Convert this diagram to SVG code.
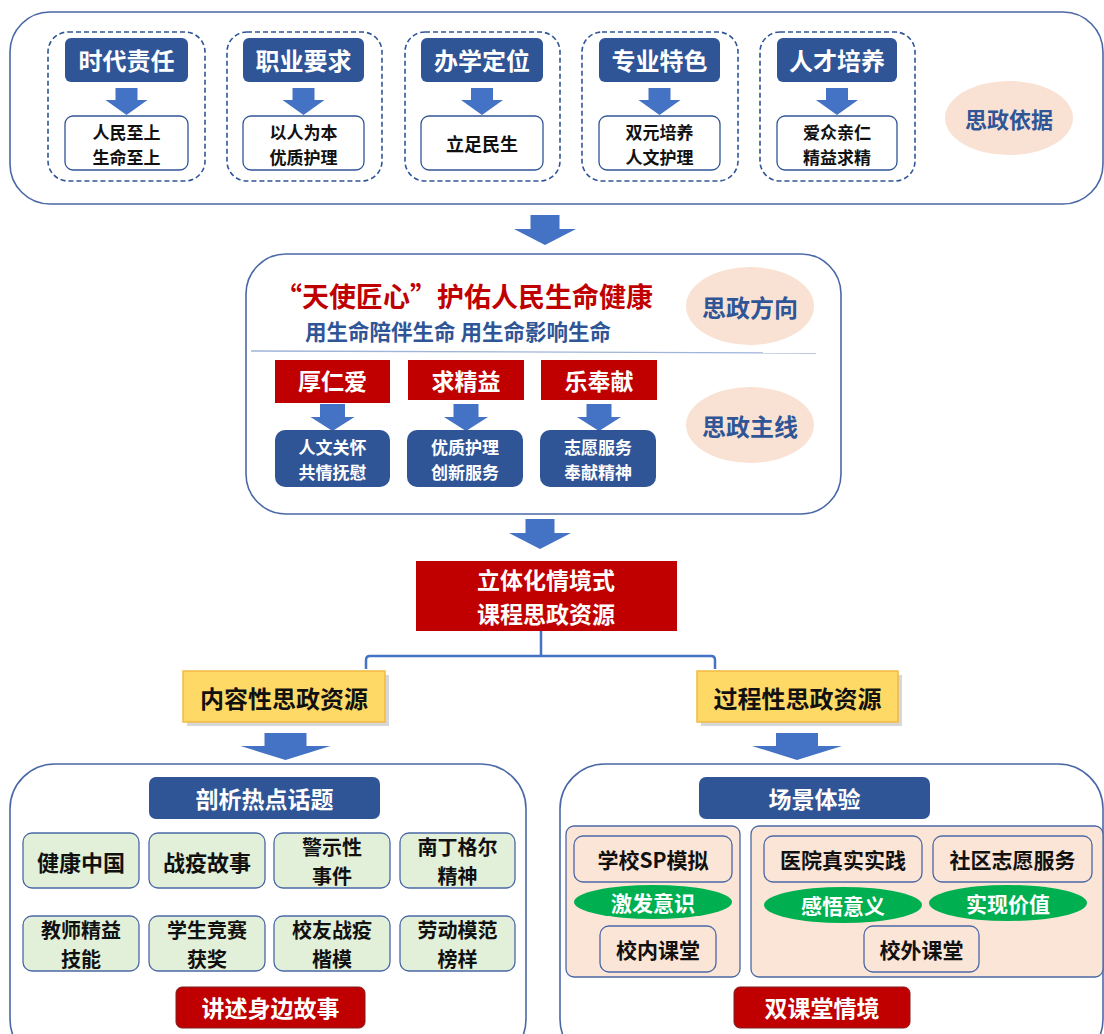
<svg xmlns="http://www.w3.org/2000/svg" width="1104" height="1034" viewBox="0 0 1104 1034">
<style>
text{font-family:"Noto Sans CJK SC","Noto Sans",sans-serif;font-weight:bold;text-anchor:middle;dominant-baseline:central}
.panel{fill:#fff;stroke:#4a68a6;stroke-width:1.6}
.dash{fill:#fff;stroke:#2f5597;stroke-width:1.6;stroke-dasharray:5 3}
.hdr{fill:#2f5597}
.wt{fill:#fff}
.bk{fill:#111}
.bl{fill:#2f5597}
.rd{fill:#c00000}
.wbox{fill:#fff;stroke:#2f5597;stroke-width:1.3}
.red{fill:#c00000}
.redb{fill:#c00000;stroke:#7f1f1f;stroke-width:1}
.blue{fill:#2f5597}
.ell{fill:#f9e2d3}
.arr{fill:#4472c4}
.grn{fill:#e2f0d9;stroke:#4a68a6;stroke-width:1.3}
.pch{fill:#fbe5d6;stroke:#4a68a6;stroke-width:1.3}
.gel{fill:#00b050}
.yel{fill:#ffd966;stroke:#f4b942;stroke-width:1.5}
.conn{fill:none;stroke:#4472c4;stroke-width:2.5}
</style>
<defs>
<path id="arS" d="M-11 0h22v12h10l-21 15l-21-15h10z"/>
<path id="arM" d="M-12.5 0h25v13h9.5l-22 14l-22-14h9.5z"/>
<path id="arB" d="M-14.5 0h29v14h16.5l-31 16l-31-16h16.5z"/>
<path id="arW" d="M-21 0h42v13h24l-45 14l-45-14h24z"/>
</defs>

<!-- Top panel -->
<g id="panel-basis">
<rect class="panel" x="10" y="12" width="1093" height="192" rx="40"/>
</g>
<g id="basis-1">
<rect class="dash" x="48" y="32" width="157" height="149" rx="20"/>
<rect class="hdr" x="65" y="38" width="123" height="44" rx="6"/>
<text class="wt" x="126.5" y="59" font-size="24">时代责任</text>
<use href="#arS" class="arr" x="126.5" y="88"/>
<rect class="wbox" x="65" y="116" width="123" height="54" rx="8"/>
<text class="bk" font-size="17"><tspan x="126.5" y="130.5">人民至上</tspan><tspan x="126.5" y="155.5">生命至上</tspan></text>
</g>
<g id="basis-2">
<rect class="dash" x="227" y="32" width="155" height="149" rx="20"/>
<rect class="hdr" x="243" y="38" width="121" height="44" rx="6"/>
<text class="wt" x="303.5" y="59" font-size="24">职业要求</text>
<use href="#arS" class="arr" x="303.5" y="88"/>
<rect class="wbox" x="243" y="116" width="121" height="54" rx="8"/>
<text class="bk" font-size="17"><tspan x="303.5" y="130.5">以人为本</tspan><tspan x="303.5" y="155.5">优质护理</tspan></text>
</g>
<g id="basis-3">
<rect class="dash" x="405" y="32" width="155" height="149" rx="20"/>
<rect class="hdr" x="421" y="38" width="122" height="44" rx="6"/>
<text class="wt" x="482" y="59" font-size="24">办学定位</text>
<use href="#arS" class="arr" x="482" y="88"/>
<rect class="wbox" x="421" y="116" width="122" height="54" rx="8"/>
<text class="bk" x="482" y="143" font-size="18">立足民生</text>
</g>
<g id="basis-4">
<rect class="dash" x="582" y="32" width="156" height="149" rx="20"/>
<rect class="hdr" x="599" y="38" width="121" height="44" rx="6"/>
<text class="wt" x="659.5" y="59" font-size="24">专业特色</text>
<use href="#arS" class="arr" x="659.5" y="88"/>
<rect class="wbox" x="599" y="116" width="121" height="54" rx="8"/>
<text class="bk" font-size="17"><tspan x="659.5" y="130.5">双元培养</tspan><tspan x="659.5" y="155.5">人文护理</tspan></text>
</g>
<g id="basis-5">
<rect class="dash" x="760" y="32" width="155" height="149" rx="20"/>
<rect class="hdr" x="777" y="38" width="120" height="44" rx="6"/>
<text class="wt" x="837" y="59" font-size="24">人才培养</text>
<use href="#arS" class="arr" x="837" y="88"/>
<rect class="wbox" x="777" y="116" width="120" height="54" rx="8"/>
<text class="bk" font-size="17"><tspan x="837" y="130.5">爱众亲仁</tspan><tspan x="837" y="155.5">精益求精</tspan></text>
</g>
<g id="label-basis">
<ellipse class="ell" cx="1009" cy="118" rx="64" ry="37"/>
<text class="bl" x="1009" y="118" font-size="22">思政依据</text>
</g>

<!-- Middle panel -->
<g id="panel-direction">
<rect class="panel" x="246" y="254" width="595" height="260" rx="40"/>
<line x1="251" y1="351" x2="816" y2="353" stroke="#9fb4d8" stroke-width="1.3"/>
</g>
<g id="direction-title">
<text class="rd" x="464" y="295" font-size="27">“天使匠心”护佑人民生命健康</text>
<text class="bl" x="458" y="330" font-size="21.5">用生命陪伴生命 用生命影响生命</text>
</g>
<g id="label-direction">
<ellipse class="ell" cx="750" cy="306" rx="64" ry="39"/>
<text class="bl" x="750" y="306" font-size="24">思政方向</text>
</g>
<g id="line-1">
<rect class="red" x="275" y="360" width="115" height="43"/>
<text class="wt" x="332.5" y="380" font-size="23">厚仁爱</text>
<use href="#arM" class="arr" x="332.5" y="404"/>
<rect class="blue" x="275" y="430" width="115" height="57" rx="10"/>
<text class="wt" font-size="17"><tspan x="332.5" y="446">人文关怀</tspan><tspan x="332.5" y="471">共情抚慰</tspan></text>
</g>
<g id="line-2">
<rect class="red" x="408" y="360" width="116" height="40"/>
<text class="wt" x="466" y="380" font-size="23">求精益</text>
<use href="#arM" class="arr" x="466" y="404"/>
<rect class="blue" x="407" y="430" width="116" height="57" rx="10"/>
<text class="wt" font-size="17"><tspan x="465" y="446">优质护理</tspan><tspan x="465" y="471">创新服务</tspan></text>
</g>
<g id="line-3">
<rect class="red" x="541" y="360" width="116" height="40"/>
<text class="wt" x="599" y="380" font-size="23">乐奉献</text>
<use href="#arM" class="arr" x="599" y="404"/>
<rect class="blue" x="540" y="430" width="116" height="57" rx="10"/>
<text class="wt" font-size="17"><tspan x="598" y="446">志愿服务</tspan><tspan x="598" y="471">奉献精神</tspan></text>
</g>
<g id="label-mainline">
<ellipse class="ell" cx="750" cy="425" rx="64" ry="38"/>
<text class="bl" x="750" y="425" font-size="24">思政主线</text>
</g>

<!-- Connectors -->
<g id="connectors">
<use href="#arB" class="arr" x="545" y="215"/>
<use href="#arB" class="arr" x="540" y="519"/>
<path class="conn" d="M541 631V656M366 669V660Q366 656 370 656H711Q715 656 715 660V669"/>
<use href="#arW" class="arr" x="285.5" y="733"/>
<use href="#arW" class="arr" x="797" y="733"/>
</g>

<g id="resource">
<rect class="red" x="416" y="561" width="261" height="70"/>
<text class="wt" font-size="23"><tspan x="546" y="579">立体化情境式</tspan><tspan x="546" y="612.5">课程思政资源</tspan></text>
</g>
<g id="content-resource">
<rect x="187" y="675" width="202" height="51" fill="#bdbdbd" opacity="0.6"/>
<rect class="yel" x="183" y="671" width="202" height="51"/>
<text class="bk" x="284" y="697" font-size="24">内容性思政资源</text>
</g>
<g id="process-resource">
<rect x="701" y="675" width="201" height="51" fill="#bdbdbd" opacity="0.6"/>
<rect class="yel" x="697" y="671" width="201" height="51"/>
<text class="bk" x="797.5" y="697" font-size="24">过程性思政资源</text>
</g>

<!-- Bottom left -->
<g id="panel-topics">
<rect class="panel" x="10" y="764" width="516" height="300" rx="45"/>
<rect class="hdr" x="149" y="777" width="231" height="42" rx="7"/>
<text class="wt" x="264.5" y="798" font-size="23">剖析热点话题</text>
</g>
<g id="topic-1"><rect class="grn" x="23" y="833" width="116" height="55" rx="9"/><text class="bk" x="81" y="861" font-size="22">健康中国</text></g>
<g id="topic-2"><rect class="grn" x="149" y="833" width="116" height="55" rx="9"/><text class="bk" x="207" y="861" font-size="22">战疫故事</text></g>
<g id="topic-3"><rect class="grn" x="274" y="833" width="116" height="55" rx="9"/><text class="bk" font-size="20"><tspan x="332" y="846">警示性</tspan><tspan x="332" y="875">事件</tspan></text></g>
<g id="topic-4"><rect class="grn" x="400" y="833" width="115" height="55" rx="9"/><text class="bk" font-size="20"><tspan x="457.5" y="846">南丁格尔</tspan><tspan x="457.5" y="875">精神</tspan></text></g>
<g id="topic-5"><rect class="grn" x="23" y="916" width="116" height="55" rx="9"/><text class="bk" font-size="20"><tspan x="81" y="929">教师精益</tspan><tspan x="81" y="958">技能</tspan></text></g>
<g id="topic-6"><rect class="grn" x="149" y="916" width="116" height="55" rx="9"/><text class="bk" font-size="20"><tspan x="207" y="929">学生竞赛</tspan><tspan x="207" y="958">获奖</tspan></text></g>
<g id="topic-7"><rect class="grn" x="274" y="916" width="116" height="55" rx="9"/><text class="bk" font-size="20"><tspan x="332" y="929">校友战疫</tspan><tspan x="332" y="958">楷模</tspan></text></g>
<g id="topic-8"><rect class="grn" x="400" y="916" width="115" height="55" rx="9"/><text class="bk" font-size="20"><tspan x="457.5" y="929">劳动模范</tspan><tspan x="457.5" y="958">榜样</tspan></text></g>
<g id="story">
<rect class="redb" x="176" y="987" width="189" height="41" rx="6"/>
<text class="wt" x="270.5" y="1007" font-size="23">讲述身边故事</text>
</g>

<!-- Bottom right -->
<g id="panel-scene">
<rect class="panel" x="560" y="764" width="543" height="300" rx="45"/>
<rect class="hdr" x="699" y="777" width="231" height="42" rx="7"/>
<text class="wt" x="814.5" y="798" font-size="23">场景体验</text>
</g>
<g id="in-school">
<rect class="pch" x="566" y="826" width="174" height="151" rx="8"/>
<rect class="pch" x="574" y="836" width="158" height="46" rx="9"/>
<text class="bk" x="653" y="859" font-size="21">学校SP模拟</text>
<ellipse class="gel" cx="653" cy="902" rx="79" ry="17"/>
<text class="wt" x="653" y="902" font-size="21">激发意识</text>
<rect class="pch" x="600" y="926" width="116" height="46" rx="9"/>
<text class="bk" x="658" y="949" font-size="21">校内课堂</text>
</g>
<g id="out-school">
<rect class="pch" x="751" y="826" width="352" height="151" rx="8"/>
<rect class="pch" x="764" y="836" width="158" height="46" rx="9"/>
<text class="bk" x="843" y="859" font-size="21">医院真实实践</text>
<rect class="pch" x="933" y="836" width="159" height="46" rx="9"/>
<text class="bk" x="1012.5" y="859" font-size="21">社区志愿服务</text>
<ellipse class="gel" cx="843" cy="905" rx="79" ry="18"/>
<text class="wt" x="843" y="905" font-size="21">感悟意义</text>
<ellipse class="gel" cx="1008" cy="903" rx="79" ry="18"/>
<text class="wt" x="1008" y="903" font-size="21">实现价值</text>
<rect class="pch" x="864" y="926" width="115" height="46" rx="9"/>
<text class="bk" x="921.5" y="949" font-size="21">校外课堂</text>
</g>
<g id="double-class">
<rect class="redb" x="734" y="987" width="176" height="41" rx="6"/>
<text class="wt" x="822" y="1007" font-size="23">双课堂情境</text>
</g>
</svg>
